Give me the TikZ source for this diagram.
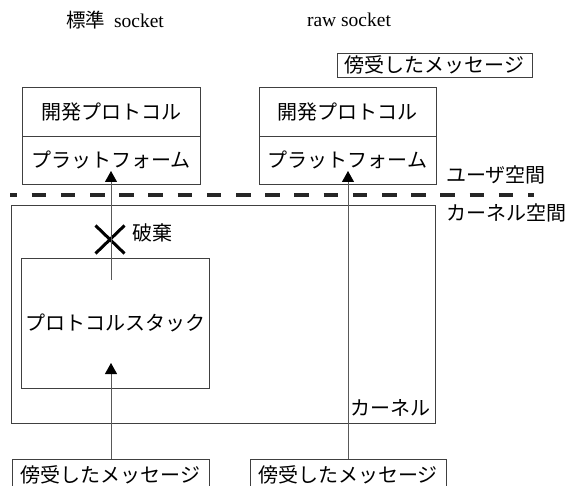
\documentclass[tikz,border=0pt]{standalone}
\usepackage{fontspec}
\setmainfont{Liberation Serif}
\newfontfamily\jp{Noto Sans CJK JP}
\usetikzlibrary{arrows.meta,shapes.misc}
\definecolor{boxline}{gray}{0.25}
\definecolor{arrline}{gray}{0.35}
\tikzset{
  jptext/.style={font=\jp\fontsize{20}{24}\selectfont, inner sep=0pt},
  entext/.style={font=\fontsize{19.5}{23}\selectfont, inner sep=0pt},
  box/.style={draw=boxline, line width=0.9pt, inner sep=0pt, font=\jp\fontsize{20}{24}\selectfont},
  flow/.style={draw=arrline, line width=0.9pt},
  tip/.style={-{Triangle[width=12pt,length=11pt,fill=black,color=black]}},
}
\begin{document}
\begin{tikzpicture}[x=1pt,y=-1pt]
\useasboundingbox (0,0) rectangle (565,486);
\clip (0,0) rectangle (565,486);
% top labels
\node[entext] (std) at (115,20) {{\jp 標準}\hspace{9pt}socket};
\node[entext] (raw) at (349,20) {raw socket};
% sniffed message (top right)
\node[box, minimum width=195, minimum height=24] (msgtop) at (434.5,65) {傍受したメッセージ};
% left user stack
\node[box, minimum width=178, minimum height=49] (ldev) at (111,112) {開発プロトコル};
\node[box, minimum width=178, minimum height=48] (lplat) at (111,160) {プラットフォーム};
% right user stack
\node[box, minimum width=177, minimum height=49] (rdev) at (347.5,112) {開発プロトコル};
\node[box, minimum width=177, minimum height=48] (rplat) at (347.5,160) {プラットフォーム};
% space labels
\node[jptext, anchor=west] (user) at (446,175) {ユーザ空間};
\node[jptext, anchor=west] (kspace) at (446,213) {カーネル空間};
% boundary
\coordinate (dl) at (10,195);
\coordinate (dr) at (534,195);
\draw[line width=4pt, black!85, dash pattern=on 14.6pt off 14.6pt, dash phase=7.6pt] (dl) -- (dr);
% kernel
\node[box, minimum width=424, minimum height=218] (kernel) at (223,314) {};
\node[jptext, anchor=east] (klabel) at (431,408) {カーネル};
% protocol stack
\node[box, minimum width=188, minimum height=130] (stack) at (115,323) {プロトコルスタック};
% discard mark
\node[cross out, draw=black, line width=3pt, minimum width=26, minimum height=25, inner sep=0pt] (xmark) at (110,239.5) {};
\node[jptext, anchor=west] (discard) at (132,233) {破棄};
% bottom sniffed messages
\node[box, minimum width=197, minimum height=32] (msgl) at (110.5,475) {傍受したメッセージ};
\node[box, minimum width=196, minimum height=32] (msgr) at (348,475) {傍受したメッセージ};
% connectors
\coordinate (stackin) at (111,363);
\coordinate (stackout) at (111,280);
\coordinate (lplatin) at (111,171);
\coordinate (rplatin) at (348,171);
\draw[flow, tip] (msgl.north -| stackin) -- (stackin);
\draw[flow, tip] (stackout) -- (lplatin);
\draw[flow, tip] (msgr.north -| rplatin) -- (rplatin);
\end{tikzpicture}
\end{document}
